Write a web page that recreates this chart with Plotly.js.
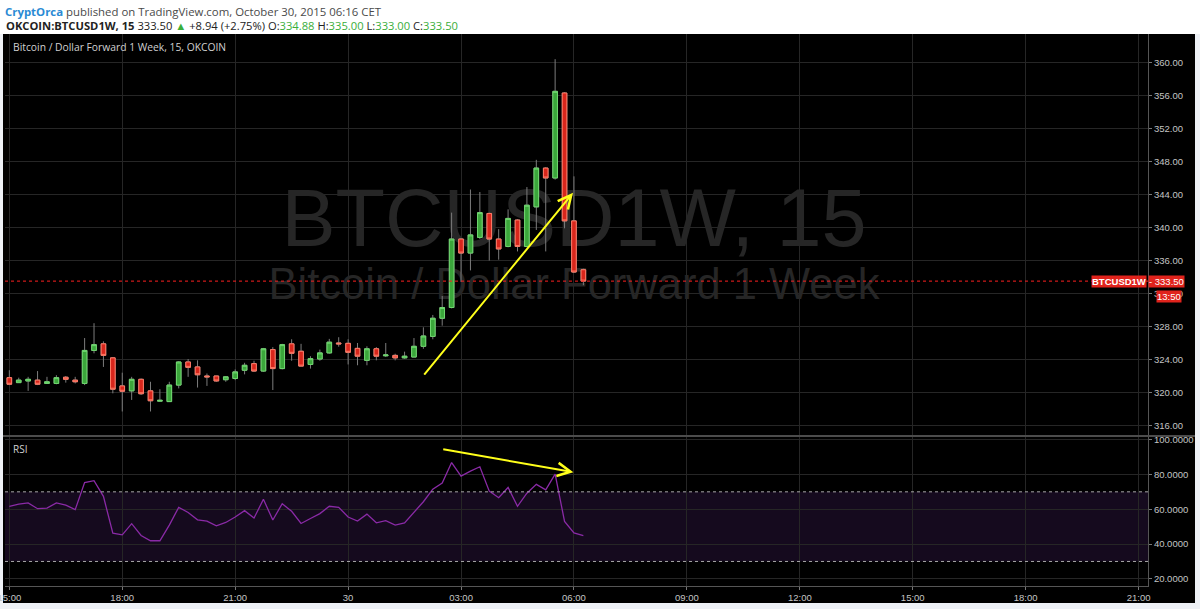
<!DOCTYPE html>
<html>
<head>
<meta charset="utf-8">
<script src="https://cdn.plot.ly/plotly-3.0.1.min.js"></script>
<style>
html,body{margin:0;padding:0;background:#eef1f6;}
#chart{width:1200px;height:609px;}
</style>
</head>
<body>
<div id="chart"></div>
<script>
// ---- data (15-minute candles, OKCOIN BTCUSD1W) ----
const times = [
 '2015-10-29 15:00','2015-10-29 15:15','2015-10-29 15:30','2015-10-29 15:45',
 '2015-10-29 16:00','2015-10-29 16:15','2015-10-29 16:30','2015-10-29 16:45',
 '2015-10-29 17:00','2015-10-29 17:15','2015-10-29 17:30','2015-10-29 17:45',
 '2015-10-29 18:00','2015-10-29 18:15','2015-10-29 18:30','2015-10-29 18:45',
 '2015-10-29 19:00','2015-10-29 19:15','2015-10-29 19:30','2015-10-29 19:45',
 '2015-10-29 20:00','2015-10-29 20:15','2015-10-29 20:30','2015-10-29 20:45',
 '2015-10-29 21:00','2015-10-29 21:15','2015-10-29 21:30','2015-10-29 21:45',
 '2015-10-29 22:00','2015-10-29 22:15','2015-10-29 22:30','2015-10-29 22:45',
 '2015-10-29 23:00','2015-10-29 23:15','2015-10-29 23:30','2015-10-29 23:45',
 '2015-10-30 00:00','2015-10-30 00:15','2015-10-30 00:30','2015-10-30 00:45',
 '2015-10-30 01:00','2015-10-30 01:15','2015-10-30 01:30','2015-10-30 01:45',
 '2015-10-30 02:00','2015-10-30 02:15','2015-10-30 02:30','2015-10-30 02:45',
 '2015-10-30 03:00','2015-10-30 03:15','2015-10-30 03:30','2015-10-30 03:45',
 '2015-10-30 04:00','2015-10-30 04:15','2015-10-30 04:30','2015-10-30 04:45',
 '2015-10-30 05:00','2015-10-30 05:15','2015-10-30 05:30','2015-10-30 05:45',
 '2015-10-30 06:00','2015-10-30 06:15'
];
const openP = [
 321.8,321.2,321.4,321.5,321.1,321.1,321.85,321.5,321.1,325.1,325.9,324.2,
 320.8,320.2,321.6,320.2,318.95,318.9,320.9,323.7,323.1,322.0,322.0,321.55,
 321.7,322.7,323.5,322.6,325.2,322.9,325.9,325.0,323.4,324.06,324.8,326.0,
 325.96,325.35,323.9,325.3,324.45,324.5,324.2,324.3,325.6,326.8,329.0,330.3,
 338.6,336.9,338.8,341.7,338.6,337.7,340.9,337.7,342.5,347.2,346.0,356.3,
 340.8,334.88
];
const highP = [
 322.7,321.8,321.9,322.6,321.9,322.1,322.0,321.9,326.6,328.4,326.2,324.3,
 322.4,321.9,321.7,321.3,320.4,321.3,323.8,324.06,323.9,322.3,322.0,322.0,
 322.8,323.6,323.85,325.4,325.5,325.9,326.45,325.9,324.4,325.2,326.5,326.7,
 326.45,326.0,325.6,325.5,326.0,324.7,324.95,326.6,327.9,329.4,331.7,341.8,
 338.7,344.6,344.3,341.8,339.8,342.2,341.0,344.9,348.2,347.3,360.4,356.4,
 346.2,335.0
];
const lowP = [
 321.0,321.2,320.2,320.9,321.1,321.0,321.2,321.1,320.9,324.75,323.1,319.9,
 317.7,319.1,319.7,317.7,318.9,318.9,320.5,321.9,320.6,320.8,321.3,321.3,
 321.5,322.2,322.5,322.5,320.3,322.8,323.85,323.2,322.9,323.85,324.7,325.55,
 323.4,323.3,323.3,323.9,324.3,323.9,324.1,324.3,325.3,326.45,328.1,330.2,
 333.4,334.8,338.6,336.0,336.1,337.6,337.1,337.6,339.7,337.1,345.8,339.9,
 334.5,333.0
];
const closeP = [
 321.0,321.5,321.6,321.0,321.3,321.8,321.6,321.3,325.1,325.8,324.5,320.4,
 320.15,321.6,319.85,319.0,319.05,320.9,323.7,323.05,322.15,321.9,321.4,321.9,
 322.5,323.3,322.6,325.3,322.9,325.8,324.75,323.2,324.1,324.8,326.1,325.9,
 324.87,324.4,325.3,324.4,324.55,324.2,324.4,325.6,326.85,329.0,330.3,338.6,
 336.9,339.1,341.8,338.6,337.4,341.1,337.7,342.7,347.2,346.0,356.5,340.8,
 334.6,333.5
];
const rsi = [
 61.7,63.0,63.6,60.3,60.6,63.6,62.3,59.8,75.3,76.4,67.4,46.2,
 45.3,51.7,44.9,41.9,41.9,50.9,61.1,58.1,53.9,53.2,50.5,52.4,
 55.5,59.2,54.9,65.7,53.8,63.2,58.8,51.8,54.7,57.5,61.7,61.1,
 55.5,53.2,57.2,52.2,53.4,50.9,52.2,58.5,64.3,71.5,75.1,86.8,
 79.0,81.9,84.4,70.4,66.6,72.5,61.7,69.2,74.3,71.1,80.2,53.0,
 46.4,44.9
];
const xTickVals = ['2015-10-29 15:00','2015-10-29 18:00','2015-10-29 21:00','2015-10-30 00:00',
 '2015-10-30 03:00','2015-10-30 06:00','2015-10-30 09:00','2015-10-30 12:00',
 '2015-10-30 15:00','2015-10-30 18:00','2015-10-30 21:00'];
const xTickText = ['15:00','18:00','21:00','30','03:00','06:00','09:00','12:00','15:00','18:00','21:00'];
const priceTicks = [316,320,324,328,332,336,340,344,348,352,356,360];
const rsiTicks = [20,40,60,80,100];
const rsiBands = [30,70];
const priceArrow = {from:['2015-10-30 01:59:24',322.0], to:['2015-10-30 05:58:30',344.2]};
const rsiArrow = {from:['2015-10-30 02:29:15',94.6], to:['2015-10-30 05:59:06',81.3]};

// ---- styling ----
const GREEN_FILL = '#3ba63b', GREEN_LINE = '#6fd86f';
const RED_FILL = '#d8261c', RED_LINE = '#ff7a66';
const WICK = '#7c7c7c';
const GRID = '#262626';
const TICKFONT = {family:'Liberation Sans, Arial, sans-serif', size:9.5, color:'#c4c4c4'};
const H = 609, PL = 5, PW = 1143;
const py = v => (H - v) / H;            // pixel row -> paper y
const px = v => (v - PL) / PW;          // pixel col -> paper x

const bodyHigh = openP.map((o,i)=>Math.max(o, closeP[i]));
const bodyLow = openP.map((o,i)=>Math.min(o, closeP[i]));
const lastClose = closeP[closeP.length-1];

const traces = [
 { type:'candlestick', x:times, open:openP, high:highP, low:lowP, close:closeP,
   xaxis:'x', yaxis:'y', showlegend:false, hoverinfo:'skip', whiskerwidth:0,
   increasing:{line:{color:WICK,width:1}, fillcolor:WICK},
   decreasing:{line:{color:WICK,width:1}, fillcolor:WICK} },
 { type:'candlestick', x:times, open:openP, high:bodyHigh, low:bodyLow, close:closeP,
   xaxis:'x', yaxis:'y', showlegend:false, hoverinfo:'skip', whiskerwidth:0,
   increasing:{line:{color:GREEN_LINE,width:1}, fillcolor:GREEN_FILL},
   decreasing:{line:{color:RED_LINE,width:1}, fillcolor:RED_FILL} },
 { type:'scatter', mode:'lines', x:times, y:rsi, xaxis:'x', yaxis:'y2',
   line:{color:'#8a2aa6', width:1.3}, showlegend:false, hoverinfo:'skip' }
];

const shapes = [
 // black chart frame
 {type:'rect', xref:'paper', yref:'paper', x0:px(3), x1:px(1195), y0:py(603), y1:py(34),
  fillcolor:'#000', line:{width:0}, layer:'below'},
 // white header
 {type:'rect', xref:'paper', yref:'paper', x0:px(-5), x1:px(1205), y0:py(34), y1:py(-2),
  fillcolor:'#ffffff', line:{width:0}, layer:'below'},
 // RSI band
 {type:'rect', xref:'paper', yref:'y2', x0:0, x1:1, y0:rsiBands[0], y1:rsiBands[1],
  fillcolor:'#150a1e', line:{width:0}, layer:'below'},
 // watermark
 {type:'rect', xref:'paper', yref:'paper', x0:px(180), x1:px(968), y0:py(250), y1:py(170),
  fillcolor:'rgba(0,0,0,0)', line:{width:0}, layer:'below',
  label:{text:'BTCUSD1W, 15', textposition:'middle center',
   font:{family:'Liberation Sans, Arial, sans-serif', size:81, color:'#262626'}}},
 {type:'rect', xref:'paper', yref:'paper', x0:px(180), x1:px(968), y0:py(299), y1:py(259),
  fillcolor:'rgba(0,0,0,0)', line:{width:0}, layer:'below',
  label:{text:'Bitcoin / Dollar Forward 1 Week', textposition:'middle center',
   font:{family:'Liberation Sans, Arial, sans-serif', size:43.5, color:'#262626'}}},
 // band dashed lines
 {type:'line', xref:'paper', yref:'y2', x0:0, x1:1, y0:rsiBands[1], y1:rsiBands[1],
  line:{color:'#a8a8a8', width:1, dash:'3px,3px'}},
 {type:'line', xref:'paper', yref:'y2', x0:0, x1:1, y0:rsiBands[0], y1:rsiBands[0],
  line:{color:'#a8a8a8', width:1, dash:'3px,3px'}},
 // pane separator
 {type:'line', xref:'paper', yref:'paper', x0:px(3), x1:px(1195), y0:py(436), y1:py(436),
  line:{color:'#4c4c4c', width:2}},
 // last price dotted line
 {type:'line', xref:'paper', yref:'y', x0:0, x1:1, y0:lastClose, y1:lastClose,
  line:{color:'#ff2020', width:1, dash:'dot'}}
];

const G = s => '<span style="color:#3aae3a">' + s + '</span>';
const annotations = [
 {xref:'paper', yref:'paper', x:px(4), y:py(12), xanchor:'left', yanchor:'middle', showarrow:false,
  borderpad:0, font:{family:'Open Sans, sans-serif', size:11.4, color:'#4a4a4a'},
  text:'<span style="color:#2a8ad4"><b>CryptOrca</b></span> published on TradingView.com, October 30, 2015 06:16 CET'},
 {xref:'paper', yref:'paper', x:px(5), y:py(26), xanchor:'left', yanchor:'middle', showarrow:false,
  borderpad:0, font:{family:'Open Sans, sans-serif', size:11.2, color:'#222'},
  text:'<b>OKCOIN:BTCUSD1W, 15</b> 333.50 ' + G('▲') + ' +8.94 (+2.75%) O:' + G('334.88') +
       ' H:' + G('335.00') + ' L:' + G('333.00') + ' C:' + G('333.50')},
 {xref:'paper', yref:'paper', x:px(11), y:py(47), xanchor:'left', yanchor:'middle', showarrow:false,
  font:{family:'Open Sans, sans-serif', size:10.3, color:'#d0d0d0'},
  text:'Bitcoin / Dollar Forward 1 Week, 15, OKCOIN'},
 {xref:'paper', yref:'paper', x:px(11), y:py(449), xanchor:'left', yanchor:'middle', showarrow:false,
  font:{family:'Open Sans, sans-serif', size:10, color:'#d0d0d0'}, text:'RSI'},
 // last price labels
 {xref:'paper', yref:'y', x:px(1147), y:lastClose, xanchor:'right', yanchor:'middle', showarrow:false,
  bgcolor:'#e0231c', borderpad:0,
  font:{family:'Liberation Sans, Arial, sans-serif', size:9.5, color:'#fff'}, text:'<b>BTCUSD1W</b>'},
 {xref:'paper', yref:'y', x:px(1148), y:lastClose, xanchor:'left', yanchor:'middle', showarrow:false,
  bgcolor:'#e0231c', borderpad:0,
  font:{family:'Liberation Sans, Arial, sans-serif', size:9.5, color:'#fff'}, text:'- ' + lastClose.toFixed(2)},
 {xref:'paper', yref:'paper', x:px(1156), y:py(296.5), xanchor:'left', yanchor:'middle', showarrow:false,
  bgcolor:'#e0231c', borderpad:0,
  font:{family:'Liberation Sans, Arial, sans-serif', size:9.5, color:'#fff'}, text:'13:50'},
 // yellow arrows
 {xref:'x', yref:'y', axref:'x', ayref:'y', x:priceArrow.to[0], y:priceArrow.to[1],
  ax:priceArrow.from[0], ay:priceArrow.from[1], text:'', showarrow:true,
  arrowhead:5, arrowsize:1.3, arrowwidth:2, arrowcolor:'#ffff1a', standoff:0},
 {xref:'x', yref:'y2', axref:'x', ayref:'y2', x:rsiArrow.to[0], y:rsiArrow.to[1],
  ax:rsiArrow.from[0], ay:rsiArrow.from[1], text:'', showarrow:true,
  arrowhead:5, arrowsize:1.3, arrowwidth:2, arrowcolor:'#ffff1a', standoff:0}
];

const layout = {
 width:1200, height:609,
 margin:{l:PL, r:1200-PL-PW, t:0, b:0, pad:0},
 paper_bgcolor:'#eef1f6', plot_bgcolor:'#000',
 showlegend:false, hovermode:false, dragmode:false,
 xaxis:{type:'date', anchor:'y2', range:['2015-10-29 14:53:06','2015-10-30 21:15:00'],
  tickvals:xTickVals, ticktext:xTickText, tickmode:'array', ticklabeloverflow:'allow',
  showgrid:true, gridcolor:GRID, gridwidth:1, zeroline:false,
  ticks:'outside', ticklen:3, tickcolor:'#777', tickfont:TICKFONT,
  showline:true, linecolor:'#555', linewidth:1,
  rangeslider:{visible:false}, fixedrange:true},
 yaxis:{domain:[py(435), py(34)], range:[314.85, 363.45], side:'right', anchor:'x',
  tickmode:'array', tickvals:priceTicks, tickformat:'.2f',
  showgrid:true, gridcolor:GRID, zeroline:false,
  ticks:'outside', ticklen:3, tickcolor:'#777', tickfont:TICKFONT,
  showline:true, linecolor:'#555', linewidth:1, fixedrange:true},
 yaxis2:{domain:[py(586), py(437)], range:[15.9, 101.5], side:'right', anchor:'x',
  tickmode:'array', tickvals:rsiTicks, tickformat:'.4f',
  showgrid:true, gridcolor:GRID, zeroline:false,
  ticks:'outside', ticklen:3, tickcolor:'#777', tickfont:TICKFONT,
  showline:true, linecolor:'#555', linewidth:1, fixedrange:true},
 shapes:shapes,
 annotations:annotations
};

Plotly.newPlot('chart', traces, layout, {displayModeBar:false, staticPlot:true});
</script>
</body>
</html>
